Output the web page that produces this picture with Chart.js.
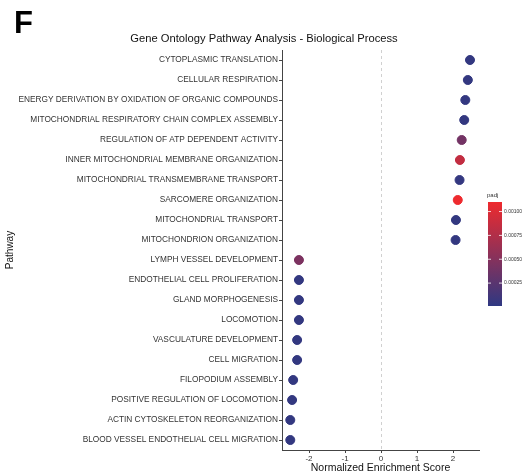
<!DOCTYPE html>
<html>
<head>
<meta charset="utf-8">
<script src="https://cdn.jsdelivr.net/npm/chart.js@4.4.1/dist/chart.umd.min.js"></script>
<style>
  body { margin: 0; background: #fff; }
  #wrap { width: 529px; height: 474px; position: relative; }
</style>
</head>
<body>
<div id="wrap"><canvas id="chart"></canvas></div>
<script>
//pathway names, top to bottom
const pathways = [
    "CYTOPLASMIC TRANSLATION",
    "CELLULAR RESPIRATION",
    "ENERGY DERIVATION BY OXIDATION OF ORGANIC COMPOUNDS",
    "MITOCHONDRIAL RESPIRATORY CHAIN COMPLEX ASSEMBLY",
    "REGULATION OF ATP DEPENDENT ACTIVITY",
    "INNER MITOCHONDRIAL MEMBRANE ORGANIZATION",
    "MITOCHONDRIAL TRANSMEMBRANE TRANSPORT",
    "SARCOMERE ORGANIZATION",
    "MITOCHONDRIAL TRANSPORT",
    "MITOCHONDRION ORGANIZATION",
    "LYMPH VESSEL DEVELOPMENT",
    "ENDOTHELIAL CELL PROLIFERATION",
    "GLAND MORPHOGENESIS",
    "LOCOMOTION",
    "VASCULATURE DEVELOPMENT",
    "CELL MIGRATION",
    "FILOPODIUM ASSEMBLY",
    "POSITIVE REGULATION OF LOCOMOTION",
    "ACTIN CYTOSKELETON REORGANIZATION",
    "BLOOD VESSEL ENDOTHELIAL CELL MIGRATION"
];

//normalized enrichment scores
const nes = [2.47, 2.41, 2.34, 2.31, 2.24, 2.19, 2.18, 2.13, 2.08, 2.07,
    -2.28, -2.28, -2.28, -2.28, -2.33, -2.33, -2.44, -2.47, -2.52, -2.52];

//adjusted p values
const padj = [0.00003, 0.00003, 0.00003, 0.00003, 0.00040, 0.00085, 0.00004, 0.00110, 0.00003, 0.00003,
    0.00045, 0.00003, 0.00003, 0.00003, 0.00003, 0.00003, 0.00003, 0.00003, 0.00003, 0.00003];

//axis ticks
const xTicks = [-2, -1, 0, 1, 2];
const padjTicks = [0.00025, 0.00050, 0.00075, 0.00100];

//colour scale limits
const padjLow = 0.00001, padjHigh = 0.00110;
const lowRGB = [47, 56, 130], highRGB = [238, 42, 46];

function padjColor(p) {
    let t = Math.max(0, Math.min(1, (p - padjLow) / (padjHigh - padjLow)));
    let c = lowRGB.map((v, i) => Math.round(v + (highRGB[i] - v) * t));
    return "rgb(" + c.join(",") + ")";
}

const FONT = "'Liberation Sans', Arial, sans-serif";

//extra drawing: panel letter, title, zero line, colour bar
const decorations = {
    id: "decorations",
    beforeDatasetsDraw(chart) {
        let ctx = chart.ctx, area = chart.chartArea;
        let x0 = chart.scales.x.getPixelForValue(0);
        ctx.save();
        ctx.strokeStyle = "#d0d0d0";
        ctx.lineWidth = 1;
        ctx.setLineDash([3, 3]);
        ctx.beginPath();
        ctx.moveTo(Math.round(x0) + 0.5, area.top);
        ctx.lineTo(Math.round(x0) + 0.5, area.bottom);
        ctx.stroke();
        ctx.restore();
    },
    afterDraw(chart) {
        let ctx = chart.ctx;
        ctx.save();
        // panel letter
        ctx.fillStyle = "#000";
        ctx.font = "bold 31px " + FONT;
        ctx.textBaseline = "alphabetic";
        ctx.textAlign = "left";
        ctx.fillText("F", 14, 33);
        // title
        ctx.font = "11.2px " + FONT;
        ctx.textAlign = "center";
        ctx.textBaseline = "middle";
        ctx.fillStyle = "#111";
        ctx.fillText("Gene Ontology Pathway Analysis - Biological Process", 264, 39);

        // colour bar
        let bx = 488, bw = 14, top = 202, bottom = 306;
        let grad = ctx.createLinearGradient(0, bottom, 0, top);
        grad.addColorStop(0, padjColor(padjLow));
        grad.addColorStop(1, padjColor(padjHigh));
        ctx.fillStyle = grad;
        ctx.fillRect(bx, top, bw, bottom - top);
        ctx.font = "6px " + FONT;
        ctx.fillStyle = "#333";
        ctx.textAlign = "left";
        ctx.fillText("padj", bx - 1, top - 7);
        ctx.font = "5px " + FONT;
        padjTicks.forEach(v => {
            let y = bottom - (v - padjLow) / (padjHigh - padjLow) * (bottom - top);
            ctx.strokeStyle = "rgba(255,255,255,0.8)";
            ctx.beginPath();
            ctx.moveTo(bx, y); ctx.lineTo(bx + 3, y);
            ctx.moveTo(bx + bw - 3, y); ctx.lineTo(bx + bw, y);
            ctx.stroke();
            ctx.fillStyle = "#333";
            ctx.fillText(v.toFixed(5), bx + bw + 2, y);
        });
        ctx.restore();
    }
};

document.addEventListener("DOMContentLoaded", () => {
    let context = document.getElementById("chart").getContext("2d");
    new Chart(context, {
        type: "scatter",
        data: {
            datasets: [{
                data: pathways.map((p, i) => ({ x: nes[i], y: i })),
                backgroundColor: padj.map(p => padjColor(p)),
                borderColor: padj.map(p => padjColor(p)),
                pointRadius: 4.5,
                pointHoverRadius: 4.5
            }]
        },
        options: {
            responsive: true,
            maintainAspectRatio: false,
            animation: false,
            layout: { padding: { top: 50, right: 50, left: 0, bottom: 0 } },
            plugins: {
                legend: { display: false },
                tooltip: { enabled: false }
            },
            scales: {
                x: {
                    type: "linear",
                    min: -2.75,
                    max: 2.72,
                    afterBuildTicks: scale => { scale.ticks = xTicks.map(v => ({ value: v })); },
                    afterFit: scale => { scale.height = 24; },
                    grid: { drawOnChartArea: false, drawTicks: true, tickLength: 3, color: "#444" },
                    border: { display: true, color: "#444", width: 1 },
                    ticks: { color: "#333", font: { family: FONT, size: 8 }, padding: 1 },
                    title: {
                        display: true,
                        text: "Normalized Enrichment Score",
                        color: "#111",
                        font: { family: FONT, size: 10.5 },
                        padding: { top: 0, bottom: 0 }
                    }
                },
                y: {
                    type: "linear",
                    reverse: true,
                    min: -0.5,
                    max: 19.5,
                    afterBuildTicks: scale => { scale.ticks = pathways.map((p, i) => ({ value: i })); },
                    afterFit: scale => { scale.width = 282; },
                    grid: { drawOnChartArea: false, drawTicks: true, tickLength: 3, color: "#444" },
                    border: { display: true, color: "#444", width: 1 },
                    ticks: {
                        color: "#333",
                        font: { family: FONT, size: 8.3 },
                        padding: 1,
                        autoSkip: false,
                        callback: v => pathways[v]
                    },
                    title: {
                        display: true,
                        text: "Pathway",
                        color: "#111",
                        font: { family: FONT, size: 10 },
                        padding: { top: 4, bottom: 0 }
                    }
                }
            }
        },
        plugins: [decorations]
    });
});
</script>
</body>
</html>
